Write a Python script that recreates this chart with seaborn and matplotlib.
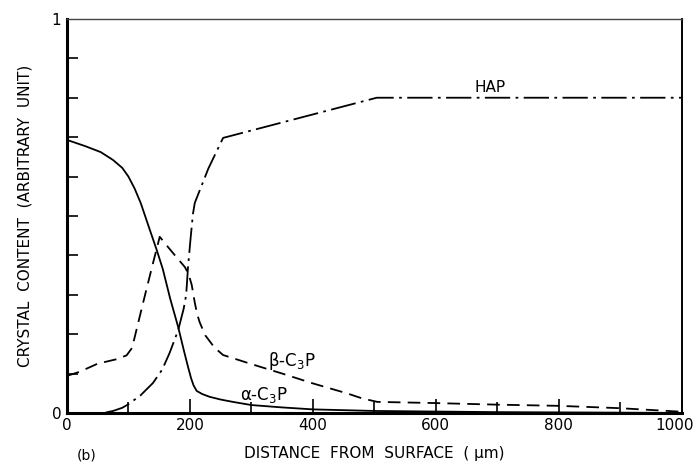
import matplotlib
matplotlib.use("Agg")
import matplotlib.pyplot as plt
import matplotlib.transforms as mtransforms
import seaborn as sns
import pandas as pd

# --- data ---
alpha_x = [0, 30, 55, 75, 90, 100, 110, 120, 135, 146, 156, 168, 181, 190, 197, 202, 206, 211, 220, 232, 250, 270, 300, 350, 400, 500, 700, 1000]
alpha_y = [0.693, 0.677, 0.662, 0.642, 0.622, 0.6, 0.57, 0.533, 0.464, 0.414, 0.365, 0.29, 0.218, 0.16, 0.117, 0.088, 0.07, 0.056, 0.048, 0.041, 0.034, 0.028, 0.02, 0.014, 0.009, 0.005, 0.002, 0.0]

beta_x = [0, 20, 50, 80, 97, 106, 124, 140, 151, 165, 180, 192, 198, 203, 208, 212, 216, 225, 240, 254, 300, 350, 400, 455, 480, 505, 600, 700, 800, 900, 1000]
beta_y = [0.094, 0.104, 0.125, 0.136, 0.146, 0.165, 0.28, 0.38, 0.447, 0.42, 0.392, 0.37, 0.352, 0.325, 0.28, 0.25, 0.23, 0.197, 0.166, 0.147, 0.124, 0.1, 0.075, 0.05, 0.037, 0.028, 0.025, 0.021, 0.018, 0.012, 0.003]

hap_x = [0, 60, 75, 90, 100, 120, 140, 155, 167, 181, 190, 194, 197, 201, 205, 208, 230, 254, 504, 1000]
hap_y = [0.0, 0.0, 0.005, 0.013, 0.022, 0.045, 0.076, 0.11, 0.152, 0.21, 0.265, 0.3, 0.37, 0.44, 0.505, 0.533, 0.62, 0.698, 0.8, 0.8]

x_ticks_major = [0, 200, 400, 600, 800, 1000]
y_tick_labels = ["0", "1"]

sns.set_style("white")
plt.rcParams['font.family'] = ['DejaVu Sans']
plt.rcParams['text.color'] = 'black'
plt.rcParams['axes.labelcolor'] = 'black'
plt.rcParams['xtick.color'] = 'black'
plt.rcParams['ytick.color'] = 'black'

fig = plt.figure(figsize=(6.97, 4.73), dpi=100)
ax = fig.add_axes([0.096, 0.127, 0.882, 0.833])

df_a = pd.DataFrame({"x": alpha_x, "y": alpha_y})
df_b = pd.DataFrame({"x": beta_x, "y": beta_y})
df_h = pd.DataFrame({"x": hap_x, "y": hap_y})

sns.lineplot(data=df_a, x="x", y="y", ax=ax, color="black", lw=1.3, sort=False)
sns.lineplot(data=df_b, x="x", y="y", ax=ax, color="black", lw=1.3, sort=False,
             linestyle=(0, (7, 4)))
sns.lineplot(data=df_h, x="x", y="y", ax=ax, color="black", lw=1.3, sort=False,
             linestyle=(0, (14, 3, 1.5, 3)))

ax.set_xlim(0, 1000)
ax.set_ylim(0, 1)

ax.set_xticks(x_ticks_major)
ax.set_xticks(range(0, 1001, 100), minor=True)
ax.set_yticks([0, 1])
ax.set_yticklabels(y_tick_labels)
ax.set_yticks([i / 10 for i in range(11)], minor=True)

ax.tick_params(axis="both", which="both", direction="in", color="black",
               labelcolor="black", width=1.2, bottom=True, left=True,
               top=False, right=False)
ax.tick_params(axis="x", which="major", length=10, labelsize=11, pad=4)
ax.tick_params(axis="x", which="minor", length=8)
ax.tick_params(axis="y", which="major", length=0, labelsize=11, pad=4)
ax.tick_params(axis="y", which="minor", length=8)

# nudge the last x tick label so it stays inside the figure
last = ax.get_xticklabels()[-1]
last.set_transform(last.get_transform() +
                   mtransforms.ScaledTranslation(-7 / 100, 0, fig.dpi_scale_trans))

for side in ["left", "bottom"]:
    ax.spines[side].set_linewidth(2.2)
    ax.spines[side].set_color("black")
ax.spines["right"].set_linewidth(1.4)
ax.spines["right"].set_color("black")
ax.spines["top"].set_linewidth(1.0)
ax.spines["top"].set_color("#444444")

ax.set_xlabel("DISTANCE  FROM  SURFACE  ( μm)", fontsize=11, labelpad=9, color="black")
ax.set_ylabel("CRYSTAL  CONTENT  (ARBITRARY  UNIT)", fontsize=11, labelpad=14, color="black")

ax.text(689, 0.825, "HAP", fontsize=11, ha="center", va="center", color="black")
ax.text(366, 0.132, r"β-C$_3$P", fontsize=12, ha="center", va="center", color="black")
ax.text(320, 0.046, r"α-C$_3$P", fontsize=12, ha="center", va="center", color="black")

fig.text(77 / 697, 1 - 455 / 473, "(b)", fontsize=10, ha="left", va="center", color="black")

fig.savefig("out.png", dpi=100)
